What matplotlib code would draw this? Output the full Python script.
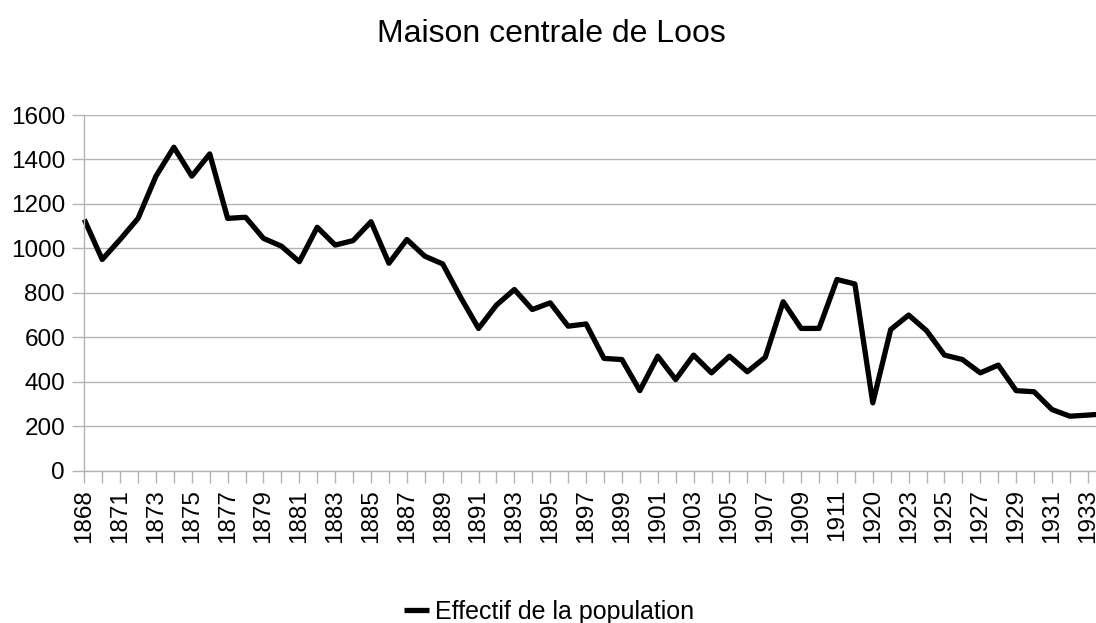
import matplotlib
matplotlib.use("Agg")
import matplotlib.pyplot as plt

# data
years = ['1868', '1870', '1871', '1872', '1873', '1874', '1875', '1876', '1877', '1878',
         '1879', '1880', '1881', '1882', '1883', '1884', '1885', '1886', '1887', '1888',
         '1889', '1890', '1891', '1892', '1893', '1894', '1895', '1896', '1897', '1898',
         '1899', '1900', '1901', '1902', '1903', '1904', '1905', '1906', '1907', '1908',
         '1909', '1910', '1911', '1912', '1920', '1921', '1923', '1924', '1925', '1926',
         '1927', '1928', '1929', '1930', '1931', '1932', '1933', '1934']
effectif = [1130, 950, 1040, 1135, 1325, 1455, 1325, 1425, 1135, 1140,
            1045, 1010, 940, 1095, 1015, 1035, 1120, 933, 1040, 965,
            930, 780, 640, 745, 815, 725, 755, 650, 660, 505,
            500, 360, 515, 410, 520, 440, 515, 445, 510, 760,
            640, 640, 860, 840, 305, 635, 700, 630, 520, 500,
            440, 475, 360, 355, 275, 245, 250, 256]
series_name = "Effectif de la population"
title = "Maison centrale de Loos"

plt.rcParams['font.family'] = ['Liberation Sans', 'DejaVu Sans']

fig = plt.figure(figsize=(10.96, 6.23), dpi=100)
# plot area runs past the right edge, as in the reference (clipped)
ax = fig.add_axes([0.0769, 0.2445, 0.932, 0.5709])

xs = list(range(len(years)))
ax.plot(xs, effectif, color='black', lw=3.8, solid_joinstyle='round',
        solid_capstyle='butt', label=series_name, clip_on=False)

ax.set_xlim(0, len(years) - 1)
ax.set_ylim(0, 1600)
ax.set_yticks(range(0, 1601, 200))
ax.set_xticks(xs)
ax.set_xticklabels([y if i % 2 == 0 else '' for i, y in enumerate(years)], rotation=90)

ax.grid(axis='y', color='#b3b3b3', lw=1)
ax.set_axisbelow(True)
for s in ['top', 'right']:
    ax.spines[s].set_visible(False)
for s in ['left', 'bottom']:
    ax.spines[s].set_color('#b3b3b3')
    ax.spines[s].set_linewidth(1)
ax.tick_params(axis='both', colors='#b3b3b3', labelcolor='black', length=8.3,
               width=1, labelsize=17.5)
ax.tick_params(axis='y', pad=5.5)
ax.tick_params(axis='x', pad=5)

fig.text(0.503, 1 - 42 / 623, title, ha='center', va='baseline', fontsize=23)

fig.legend(loc='center', bbox_to_anchor=(0.501, 1 - 612 / 623), frameon=False,
           fontsize=18, handlelength=1.0, handletextpad=0.25)

fig.savefig('out.png', dpi=100)
